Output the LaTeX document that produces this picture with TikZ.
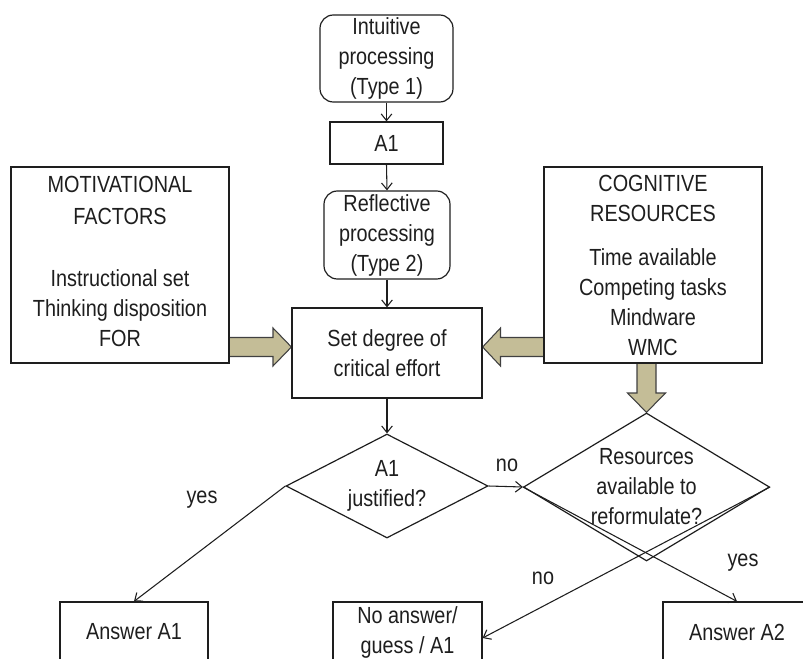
\documentclass[tikz,border=0pt]{standalone}
\usepackage{fontspec}
\setmainfont{Liberation Sans}[FakeStretch=0.85]
\usetikzlibrary{shapes.geometric,arrows.meta,calc}
\definecolor{tanfill}{HTML}{C4BD97}
\definecolor{ink}{HTML}{1E1E1E}
\newcommand\pxu{0.75pt}
\pgfdeclarelayer{bg}
\pgfsetlayers{bg,main}
\begin{document}
\begin{tikzpicture}[x=0.75pt,y=-0.75pt,
 every node/.style={font=\fontsize{17.5}{22.5}\selectfont, text=ink},
 box/.style={draw=ink, line width=0.9pt, rectangle, inner sep=0pt, align=center},
 rbox/.style={box, rounded corners=10pt},
 dia/.style={draw=ink, line width=0.9pt, diamond, inner sep=0pt, align=center},
 arr/.style={draw=ink, line width=0.8pt, -{Straight Barb[length=5pt,width=8pt]}},
 fat/.style={draw=ink!85, fill=tanfill, line width=0.8pt, line join=miter}]
\useasboundingbox (0,0) rectangle (803,659);

\node[rbox, minimum width=133*\pxu, minimum height=87*\pxu] (intu) at (386.5,58.5) {Intuitive\\processing\\(Type 1)};
\node[box, minimum width=113*\pxu, minimum height=42*\pxu] (a1) at (386.5,143) {A1};
\node[rbox, minimum width=126*\pxu, minimum height=88*\pxu] (refl) at (387,235) {Reflective\\processing\\(Type 2)};
\node[box, minimum width=190*\pxu, minimum height=90*\pxu] (set) at (387,353) {Set degree of\\critical effort};

\node[box, text depth=6pt, minimum width=218*\pxu, minimum height=196*\pxu] (mot) at (120,265) {MOTIVATIONAL\\[1.5pt]FACTORS\\[24pt]Instructional set\\Thinking disposition\\FOR};
\node[box, minimum width=218*\pxu, minimum height=196*\pxu] (cog) at (653,265) {COGNITIVE\\RESOURCES\\[10.5pt]Time available\\Competing tasks\\Mindware\\WMC};

\node[dia, aspect=2, minimum width=202*\pxu, minimum height=104*\pxu] (d1) at (387,486) {A1\\justified?};
\node[dia, aspect=1.66, minimum width=246*\pxu, minimum height=148*\pxu] (d2) at (646.5,487) {Resources\\available to\\reformulate?};

\node[box, minimum width=148*\pxu, minimum height=60*\pxu] (ansA1) at (134,632) {Answer A1};
\node[box, minimum width=149*\pxu, minimum height=60*\pxu] (noans) at (407.5,632) {No answer/\\guess / A1};
\node[box, minimum width=148*\pxu, minimum height=60*\pxu] (ansA2) at (737,632) {Answer A2};

\draw[arr] (intu.south) -- (a1.north);
\draw[arr] (a1.south) -- (refl.north);
\draw[arr] (refl.south) -- (set.north);
\draw[arr] (set.south) -- (d1.north);
\draw[arr] (d1.east) -- (d2.west);
\draw[arr] (d1.west) -- (ansA1.north);
\draw[arr] (d2.west) -- (ansA2.north);
\draw[arr] (d2.east) -- ($(noans.east)+(0,6)$);

\node (lno1) at (507,465) {no};
\node (lyes1) at (202,500) {yes};
\node (lyes2) at (743,563) {yes};
\node (lno2) at (543,578) {no};

\begin{pgfonlayer}{bg}
\draw[fat] (mot.east |- 0,337.5) -- (273,337.5) -- (273,328) -- (set.west |- 0,347) -- (273,366) -- (273,356.5) -- (mot.east |- 0,356.5);
\draw[fat] (cog.west |- 0,337.5) -- (500.5,337.5) -- (500.5,328) -- (set.east |- 0,347) -- (500.5,366) -- (500.5,356.5) -- (cog.west |- 0,356.5);
\draw[fat] (cog.south -| 637,0) -- (637,393) -- (627.5,393) -- (d2.north) -- (665.5,393) -- (656,393) -- (cog.south -| 656,0);
\end{pgfonlayer}
\end{tikzpicture}
\end{document}
